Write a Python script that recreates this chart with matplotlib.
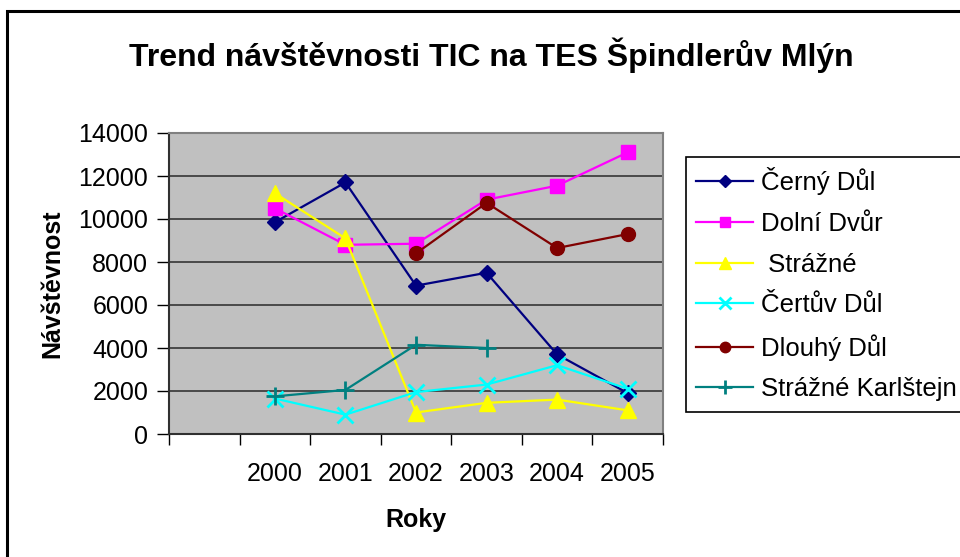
import numpy as np
import matplotlib
matplotlib.use("Agg")
import matplotlib.pyplot as plt
from matplotlib.patches import Rectangle

plt.rcParams['font.family'] = ['Liberation Sans', 'DejaVu Sans']

# kategorie (prvni je prazdna)
roky = ['', '2000', '2001', '2002', '2003', '2004', '2005']

cerny_dul = [9850, 11700, 6900, 7500, 3700, 1900]
dolni_dvur = [10500, 8800, 8850, 10900, 11550, 13100]
strazne = [11200, 9100, 1000, 1450, 1600, 1100]
certuv_dul = [1650, 900, 1950, 2300, 3200, 2100]
dlouhy_dul = [np.nan, np.nan, 8400, 10750, 8650, 9300]
strazne_karlstejn = [1750, 2050, 4150, 4000, np.nan, np.nan]

nazvy = ['Černý Důl', 'Dolní Dvůr', ' Strážné', 'Čertův Důl', 'Dlouhý Důl', 'Strážné Karlštejn']
rady = [cerny_dul, dolni_dvur, strazne, certuv_dul, dlouhy_dul, strazne_karlstejn]
barvy = ['#000080', '#FF00FF', '#FFFF00', '#00FFFF', '#800000', '#008080']
znacky = ['D', 's', '^', 'x', 'o', '+']
velikosti = [8, 10, 11, 12, 10, 13]

fig = plt.figure(figsize=(9.6, 5.57), dpi=100)
ax = fig.add_axes([169 / 960, 1 - 434 / 557, 494 / 960, 301 / 557])
ax.set_facecolor('#C0C0C0')

x = np.arange(1, len(roky)) + 0.5
for y, nazev, c, m, ms in zip(rady, nazvy, barvy, znacky, velikosti):
    ax.plot(x, y, color=c, marker=m, ms=ms, lw=1.6, mew=2 if m in 'x+' else 1,
            label=nazev)

ax.set_xlim(0, len(roky))
ax.set_ylim(0, 14000)
ax.set_yticks(np.arange(0, 14001, 2000))
ax.set_xticks(np.arange(0, len(roky) + 1))
ax.set_xticklabels([])
ax.set_xticks(np.arange(len(roky)) + 0.5, minor=True)
ax.set_xticklabels(roky, minor=True)
ax.tick_params(axis='x', which='minor', length=0, labelsize=18, pad=20)
ax.tick_params(axis='x', which='major', length=8, width=1, color='black')
ax.tick_params(axis='y', length=9, width=1, labelsize=18, pad=6, color='black')
ax.grid(axis='y', color='#404040', lw=1.3)
ax.set_axisbelow(True)

for s in ['top', 'right']:
    ax.spines[s].set_color('#808080')
    ax.spines[s].set_linewidth(1.5)
for s in ['left', 'bottom']:
    ax.spines[s].set_color('#303030')
    ax.spines[s].set_linewidth(1.5)

ax.set_ylabel('Návštěvnost', fontsize=18, fontweight='bold', labelpad=10)
ax.set_xlabel('Roky', fontsize=18, fontweight='bold', labelpad=16)
fig.text(491 / 960, 1 - 55 / 557, 'Trend návštěvnosti TIC na TES Špindlerův Mlýn',
         fontsize=23, fontweight='bold', ha='center', va='center')

leg = ax.legend(loc='upper left', bbox_to_anchor=(686 / 960, 1 - 157 / 557),
                bbox_transform=fig.transFigure, fontsize=18.5, frameon=True,
                fancybox=False, edgecolor='black', framealpha=1,
                handlelength=2.2, handletextpad=0.3, labelspacing=0.65,
                borderpad=0.4, borderaxespad=0, markerscale=0.75)
leg.get_frame().set_linewidth(1.2)

fig.add_artist(Rectangle((7 / 960, -0.1), 1.1, 1 - 11 / 557 + 0.1,
                         transform=fig.transFigure, fill=False, lw=2.2,
                         edgecolor='black'))

fig.savefig('out.png', dpi=100)
